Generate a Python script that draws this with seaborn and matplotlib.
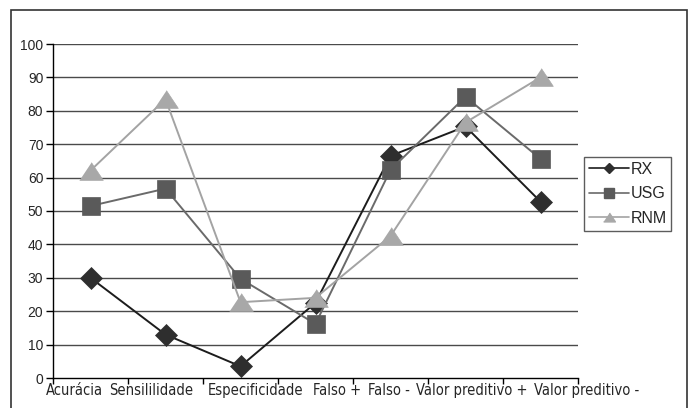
import matplotlib
matplotlib.use('Agg')
import matplotlib.pyplot as plt
import matplotlib.transforms as mtransforms
from matplotlib.patches import Rectangle
from matplotlib.lines import Line2D
import seaborn as sns
import pandas as pd

categorias = ['Acurácia', 'Sensililidade', 'Especificidade', 'Falso +', 'Falso -',
              'Valor preditivo +', 'Valor preditivo -']
rx = [30, 13, 3.5, 22.5, 66.5, 75.3, 52.8]
usg = [51.5, 56.7, 29.7, 16.2, 62.3, 84.2, 65.6]
rnm = [62.1, 83.5, 22.7, 24, 42.5, 76.5, 90]
y_ticks = [0, 10, 20, 30, 40, 50, 60, 70, 80, 90, 100]

sns.set_style('white')
plt.rcParams['font.family'] = ['Liberation Sans', 'DejaVu Sans']

fig = plt.figure(figsize=(6.91, 4.08), dpi=100)
ax = fig.add_axes([53 / 691, 1 - 378 / 408, 525 / 691, 334 / 408])

tri = [(-1, -0.75), (1, -0.75), (0, 0.75)]
series = [
    ('RX', rx, '#1c1c1c', '#2e2e2e', 'D', 11),
    ('USG', usg, '#6a6a6a', '#5a5a5a', 's', 13),
    ('RNM', rnm, '#a3a3a3', '#a8a8a8', tri, 17),
]
handles = []
for nome, vals, lc, mc, mk, ms in series:
    df = pd.DataFrame({'x': list(range(len(categorias))), 'y': vals})
    sns.lineplot(data=df, x='x', y='y', ax=ax, color=lc, lw=1.4,
                 marker=mk, markersize=ms, markerfacecolor=mc,
                 markeredgecolor=mc, markeredgewidth=0.5, legend=False)
    handles.append(Line2D([], [], color=lc, lw=1.2, marker=mk,
                          markersize=ms * 0.5, markerfacecolor=mc,
                          markeredgecolor=mc, label=nome))

ax.set_xlim(-0.5, len(categorias) - 0.5)
ax.set_ylim(0, 100)
ax.set_xlabel('')
ax.set_ylabel('')
ax.set_yticks(y_ticks)
ax.set_yticklabels([str(v) for v in y_ticks], fontsize=10)
for v in y_ticks[1:]:
    ax.axhline(v, color='#4a4a4a', lw=1, zorder=0)

# ticks at category boundaries; category names set as free text like the original
ax.set_xticks([i - 0.5 for i in range(len(categorias) + 1)])
ax.set_xticklabels([''] * (len(categorias) + 1))
offsets = [-16, -14, 15, 22, -2, 6, 46]   # px shift of each name from its category centre
trans = mtransforms.blended_transform_factory(ax.transData, ax.transAxes)
for i, (nome, dx) in enumerate(zip(categorias, offsets)):
    ax.text(i + dx / 75, -0.014, nome, transform=trans, ha='center', va='top',
            fontsize=10.5, family='DejaVu Sans', fontstretch='condensed',
            clip_on=False)
ax.tick_params(axis='x', which='major', direction='out', length=4, width=1,
               color='black', bottom=True)
ax.tick_params(axis='y', direction='out', length=5, width=1, color='black',
               left=True, pad=2)

for s in ['top', 'right']:
    ax.spines[s].set_visible(False)
for s in ['left', 'bottom']:
    ax.spines[s].set_color('black')
    ax.spines[s].set_linewidth(1)

leg = fig.legend(handles=handles, loc='upper left',
                 bbox_to_anchor=(584 / 691, 1 - 157 / 408), fontsize=11.5,
                 frameon=True, fancybox=False, handlelength=2.5,
                 handletextpad=0.1, borderpad=0.3, borderaxespad=0,
                 labelspacing=0.6)
leg.get_frame().set_edgecolor('#333333')
leg.get_frame().set_linewidth(1)

fig.patches.append(Rectangle((11 / 691, -0.02), 676 / 691, 1 - 10 / 408 + 0.02,
                             transform=fig.transFigure, fill=False,
                             edgecolor='#333333', lw=1.2))

fig.savefig('out.png', dpi=100)
